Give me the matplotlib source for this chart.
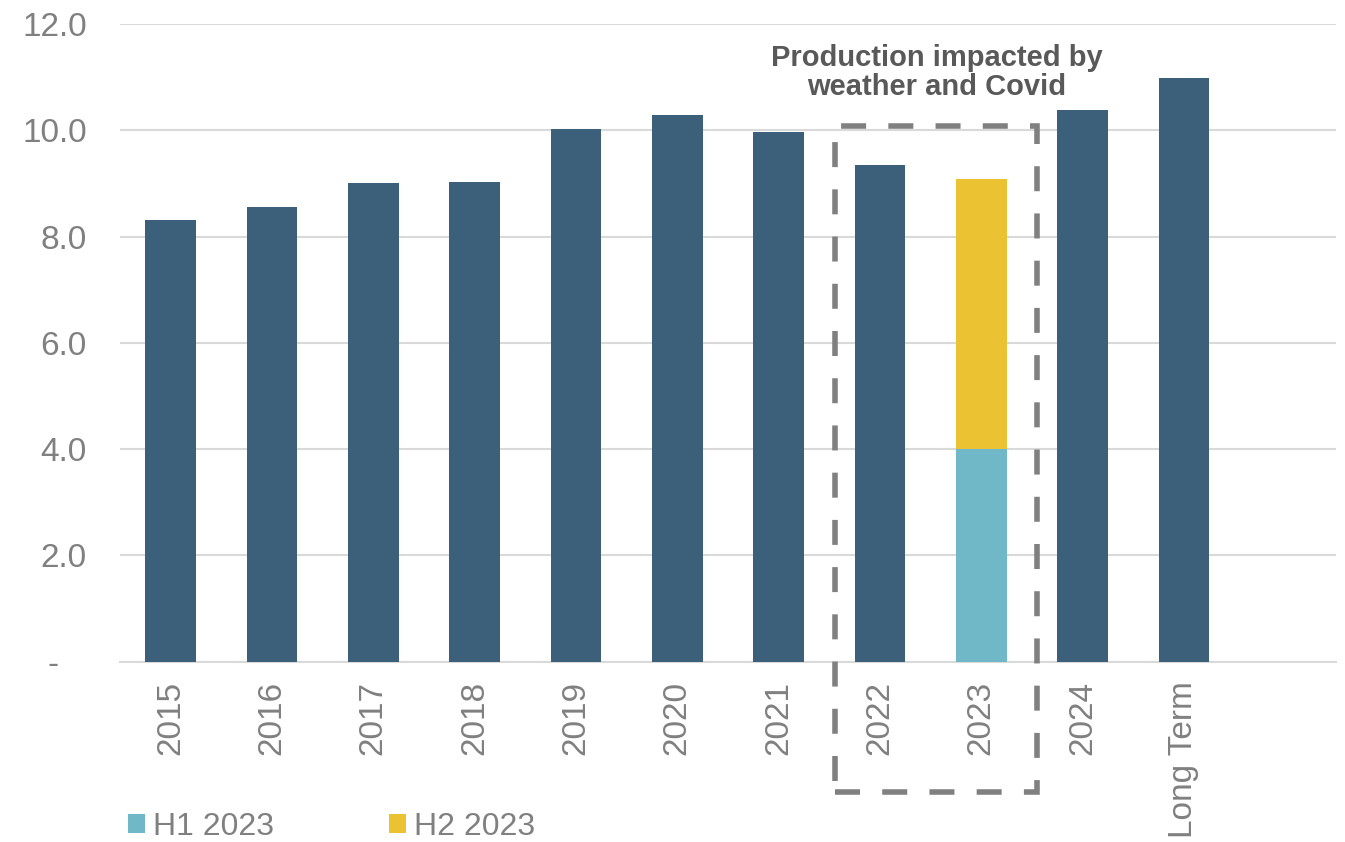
import matplotlib.pyplot as plt
from matplotlib.patches import Rectangle
from matplotlib.ticker import FuncFormatter
import numpy as np

plt.rcParams['font.family'] = ['Liberation Sans', 'DejaVu Sans']

# data
categories = ['2015', '2016', '2017', '2018', '2019', '2020', '2021',
              '2022', '2023', '2024', 'Long Term']
totals = [8.32, 8.55, 9.00, 9.03, 10.02, 10.29, 9.96, 9.34, None, 10.39, 10.98]
h1_2023 = 4.0
h2_2023 = 5.09
note = 'Production impacted by\nweather and Covid'

dark = '#3C6079'
teal = '#70B8C8'
gold = '#EBC232'
grey_txt = '#808080'
grid_c = '#D9D9D9'

fig = plt.figure(figsize=(13.45, 8.42), dpi=100)
ax = fig.add_axes([0.0892, 0.2141, 0.9041, 0.7574])

x = np.arange(len(categories))
w = 0.5
idx23 = categories.index('2023')
for i, v in enumerate(totals):
    if v is not None:
        ax.bar(x[i], v, width=w, color=dark, zorder=3)
ax.bar(x[idx23], h1_2023, width=w, color=teal, zorder=3, label='H1 2023')
ax.bar(x[idx23], h2_2023, bottom=h1_2023, width=w, color=gold, zorder=3,
       label='H2 2023')

ax.set_xlim(-0.5, len(categories) + 0.5)
ax.set_ylim(0, 12)
ax.set_yticks(np.arange(0, 12.1, 2))
ax.yaxis.set_major_formatter(FuncFormatter(lambda v, p: '-   ' if v == 0 else f'{v:.1f}'))
ax.set_xticks(x)
ax.set_xticklabels(categories, rotation=90)
ax.tick_params(axis='both', length=0, labelsize=24, colors=grey_txt)
ax.tick_params(axis='y', pad=24)
ax.tick_params(axis='x', pad=14)
ax.grid(axis='y', color=grid_c, linewidth=1.5, zorder=0)
for s in ['top', 'right', 'left']:
    ax.spines[s].set_visible(False)
ax.spines['bottom'].set_color(grid_c)
ax.spines['bottom'].set_linewidth(1.5)

# dashed box around 2022-2023
i22 = categories.index('2022')
box = Rectangle((x[i22] - 0.444, -2.45), (x[idx23] - x[i22]) + 0.994, 12.53,
                fill=False, edgecolor=grey_txt, linewidth=4,
                linestyle=(0, (4.5, 4)), clip_on=False, zorder=4)
ax.add_patch(box)
ax.text((x[i22] + x[idx23]) / 2 + 0.06, 11.09, note, ha='center', va='center',
        fontsize=21, fontweight='bold', color='#595959', linespacing=1.05)

fig.legend(loc='lower left', bbox_to_anchor=(0.074, -0.034), ncol=2,
           frameon=False, fontsize=23, labelcolor=grey_txt,
           handlelength=0.53, handleheight=0.53, handletextpad=0.25,
           columnspacing=3.6)

fig.savefig('out.png', dpi=100)
